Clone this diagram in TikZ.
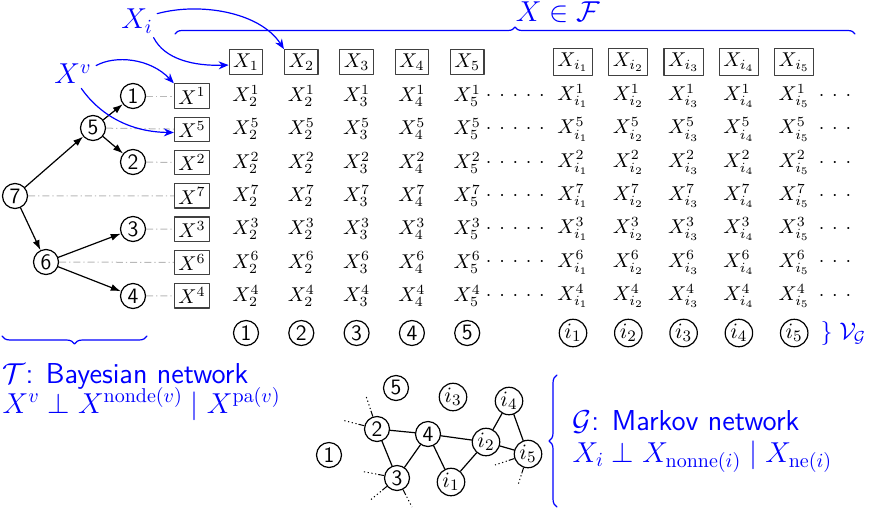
\documentclass[tikz,border=0pt]{standalone}
\usetikzlibrary{positioning}
\usetikzlibrary{arrows.meta}
\usetikzlibrary{decorations.pathreplacing}
\tikzstyle{every path}=[line width=0.6pt,line cap=round,line join=round]
\tikzstyle{vnode}=[circle,draw,inner sep=0.5pt,minimum size=12.5pt,font=\fontsize{11}{13}\selectfont\sffamily]
\tikzstyle{xbox}=[draw=black!75,inner sep=2pt]
\tikzstyle{entry}=[inner sep=1pt]
\tikzstyle{guide}=[gray!55,line width=0.5pt,line cap=butt,dash pattern=on 3.5pt off 1.5pt on 0.6pt off 1.5pt]
\tikzstyle{barrow}=[blue,-{Stealth[length=5pt,width=4pt]}]
\tikzstyle{tarrow}=[-{Latex[length=5pt,width=3.5pt]}]
\tikzstyle{stub}=[line width=0.5pt,line cap=butt,dash pattern=on 3pt off 1pt on 0.6pt off 1.3pt on 0.6pt off 1.3pt on 0.6pt off 1.3pt on 0.6pt off 30pt]
\tikzstyle{blab}=[blue,inner sep=2pt]
\tikzstyle{btext}=[blue,anchor=base west,inner sep=0pt,font=\Large]
\tikzstyle{bbrace}=[blue,decorate,decoration={brace,amplitude=4pt}]
\newcommand{\rowdots}{{\cdot}\mkern7mu{\cdot}\mkern7mu{\cdot}\mkern7mu{\cdot}\mkern7mu{\cdot}}
\newcommand{\taildots}{{\cdot}\mkern7mu{\cdot}\mkern7mu{\cdot}}

\begin{document}
\begin{tikzpicture}[x=0.5pt,y=-0.5pt]
\useasboundingbox (0,0) rectangle (871,509);
% tree T
\node[vnode] (t7) at (15,196) {7};
\node[vnode] (t5) at (93,128) {5};
\node[vnode] (t6) at (46,262) {6};
\node[vnode] (t1) at (133,96) {1};
\node[vnode] (t2) at (133,162) {2};
\node[vnode] (t3) at (133,229) {3};
\node[vnode] (t4) at (133,296) {4};
\draw[tarrow] (t7)--(t5);
\draw[tarrow] (t7)--(t6);
\draw[tarrow] (t5)--(t1);
\draw[tarrow] (t5)--(t2);
\draw[tarrow] (t6)--(t3);
\draw[tarrow] (t6)--(t4);
% column heads
\foreach \c in {1,...,5}{
  \node[xbox] (b\c) at ({246+55.3*(\c-1)},62) {$X_{\c}$};
  \node[xbox] (bi\c) at ({573+55.3*(\c-1)},62) {$X_{i_{\c}}$};
  \node[vnode] (c\c) at ({246+55.3*(\c-1)},333) {\c};
  \node[vnode] (ci\c) at ({573+55.3*(\c-1)},333) {$i_{\c}$};
}
% rows
\foreach \v [count=\r] in {1,5,2,7,3,6,4}{
  \pgfmathsetmacro\y{96+33.3*(\r-1)}
  \node[xbox] (x\v) at (192,\y) {$X^{\v}$};
  \draw[guide] (t\v)--(x\v);
  \foreach \s [count=\c] in {2,2,3,4,5}
    \node[entry] (e\v-\c) at ({246+55.3*(\c-1)},\y) {$X_{\s}^{\v}$};
  \foreach \c in {1,...,5}
    \node[entry] (f\v-\c) at ({573+55.3*(\c-1)},\y) {$X_{i_{\c}}^{\v}$};
  \node[right=1pt of e\v-5,inner sep=0pt] (d\v) {$\rowdots$};
  \node[right=3pt of f\v-5,inner sep=0pt] (g\v) {$\taildots$};
}
\node[blue,anchor=west,inner sep=0pt] (vg) at (820,333) {\large$\}\;\mathcal{V}_{\mathcal{G}}$};
% labels and arrows
\node[blab] (xi) at (137,21) {\Large$X_i$};
\node[blab] (xv) at (73,74) {\Large$X^v$};
\draw[barrow] (xi.20) .. controls (200,2) and (260,12) .. (b2.north west);
\draw[barrow] (xi.-45) .. controls (165,60) and (195,66) .. (b1.190);
\draw[barrow] (xv.20) .. controls (115,55) and (150,58) .. (x1.north west);
\draw[barrow] (xv.-60) .. controls (100,115) and (130,132) .. (x5.190);
\draw[bbrace,decoration={amplitude=3.5pt}] (175,34)--(855,34);
\node[blue,anchor=base,inner sep=0pt] (fam) at (558,21) {\Large$X\in\mathcal{F}$};
\draw[bbrace] (147,336)--(2,336);
\node[btext] (bayes) at (2,383) {\sffamily$\mathcal{T}$: Bayesian network};
\node[btext] (bayesci) at (2,413) {$X^v\perp X^{\mathrm{nonde}(v)}\mid X^{\mathrm{pa}(v)}$};
% Markov network G
\node[vnode] (m1) at (329,455) {1};
\node[vnode] (m2) at (377,429) {2};
\node[vnode] (m3) at (397,478) {3};
\node[vnode] (m4) at (428,434) {4};
\node[vnode] (m5) at (396,388) {5};
\node[vnode] (mi1) at (451,482) {$i_1$};
\node[vnode] (mi2) at (486,442) {$i_2$};
\node[vnode] (mi3) at (453,397) {$i_3$};
\node[vnode] (mi4) at (509,401) {$i_4$};
\node[vnode] (mi5) at (528,454) {$i_5$};
\draw (m2)--(m4) (m2)--(m3) (m3)--(m4) (m4)--(mi1) (m4)--(mi2)
  (mi1)--(mi2) (mi2)--(mi4) (mi2)--(mi5) (mi4)--(mi5);
\coordinate (s1) at (365,393);
\coordinate (s2) at (342,420);
\coordinate (s3) at (360,471);
\coordinate (s4) at (368,502);
\coordinate (s5) at (412,507);
\coordinate (s6) at (495,465);
\coordinate (s7) at (518,485);
\draw[stub] (m2)--(s1);
\draw[stub] (m2)--(s2);
\draw[stub] (m3)--(s3);
\draw[stub] (m3)--(s4);
\draw[stub] (m3)--(s5);
\draw[stub] (mi5)--(s6);
\draw[stub] (mi5)--(s7);
\draw[bbrace] (557,507)--(557,375);
\node[btext] (markov) at (572,430) {\sffamily$\mathcal{G}$: Markov network};
\node[btext] (markovci) at (572,462) {$X_i\perp X_{\mathrm{nonne}(i)}\mid X_{\mathrm{ne}(i)}$};
\end{tikzpicture}
\end{document}
